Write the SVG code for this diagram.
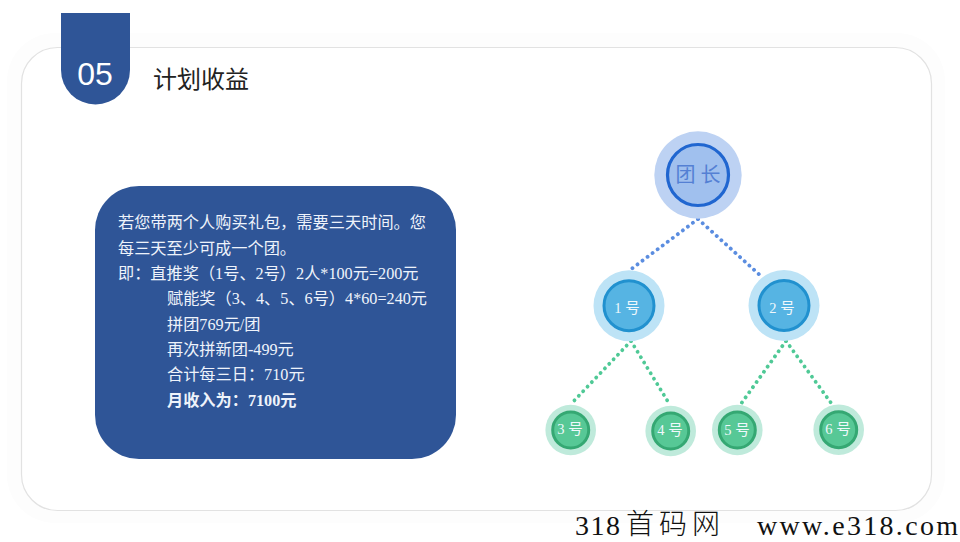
<svg xmlns="http://www.w3.org/2000/svg" width="960" height="542" viewBox="0 0 960 542">
<style>
.cn{font-family:"Liberation Serif","Noto Sans CJK SC",serif}
.body{font-size:16.2px;fill:#eef3fb}
.lab{text-anchor:middle;fill:#f0f8fc;font-size:14.5px}
.l1o{fill:#bde3f6}.l1i{fill:#56b4e3;stroke:#2191cf;stroke-width:3}
.l2o{fill:#bfeadb}.l2i{fill:#57c896;stroke:#35a873;stroke-width:3}
.dot{fill:none;stroke-width:3.8;stroke-linecap:round;stroke-dasharray:0.1 6.2}
.blue{stroke:#5b8de0}.green{stroke:#4fc996}
</style>
<rect width="960" height="542" fill="#fff"/>
<g id="card">
<rect x="7" y="33" width="938" height="490" rx="48" fill="#fdfdfd"/>
<rect x="21.500" y="47.500" width="910" height="463" rx="36" fill="#fff" stroke="#e2e2e2" stroke-width="1.200"/>
</g>
<g id="badge">
<path d="M61 13H130V70A34.500 34.500 0 0 1 61 70Z" fill="#2f5597"/>
<text x="95" y="85" text-anchor="middle" font-family="Liberation Sans,Arial,sans-serif" font-size="32" fill="#fff">05</text>
</g>
<text id="title" class="cn" x="153" y="88" font-size="24" fill="#222">计划收益</text>
<g id="info">
<rect x="95" y="186" width="361" height="273" rx="44" fill="#2f5597"/>
<g class="cn body">
<text x="118" y="228" textLength="308">若您带两个人购买礼包，需要三天时间。您</text>
<text x="118" y="254">每三天至少可成一个团。</text>
<text x="118" y="279">即：直推奖（1号、2号）2人*100元=200元</text>
<text x="167" y="304">赋能奖（3、4、5、6号）4*60=240元</text>
<text x="167" y="330">拼团769元/团</text>
<text x="167" y="355">再次拼新团-499元</text>
<text x="167" y="380">合计每三日：710元</text>
<text x="167" y="406" font-weight="700">月收入为：7100元</text>
</g>
</g>
<g id="connectors">
<path class="dot blue" d="M698 219L630 270"/>
<path class="dot blue" d="M698 219L762 277"/>
<path class="dot green" d="M631 341L571 404"/>
<path class="dot green" d="M631 341L670 405"/>
<path class="dot green" d="M786 341L738 408"/>
<path class="dot green" d="M786 341L834 407"/>
</g>
<g id="leader">
<circle cx="698" cy="175" r="43.700" fill="#bdd2f3"/>
<circle cx="698" cy="175" r="30.500" fill="#a0c0ee" stroke="#2066d0" stroke-width="3.200"/>
<text class="cn" x="698" y="182" text-anchor="middle" font-size="20" fill="#5480d4">团 长</text>
</g>
<g id="n1"><circle class="l1o" cx="629" cy="305.700" r="35.500"/><circle class="l1i" cx="629" cy="305.700" r="25"/><text class="cn lab" x="627" y="313">1 号</text></g>
<g id="n2"><circle class="l1o" cx="784" cy="305.500" r="35.500"/><circle class="l1i" cx="784" cy="305.500" r="25"/><text class="cn lab" x="782" y="313">2 号</text></g>
<g id="n3"><circle class="l2o" cx="570.700" cy="430" r="25.300"/><circle class="l2i" cx="570.700" cy="430" r="18"/><text class="cn lab" x="570" y="434">3 号</text></g>
<g id="n4"><circle class="l2o" cx="670.700" cy="431" r="25.300"/><circle class="l2i" cx="670.700" cy="431" r="18"/><text class="cn lab" x="670" y="435">4 号</text></g>
<g id="n5"><circle class="l2o" cx="737.300" cy="430" r="25.300"/><circle class="l2i" cx="737.300" cy="430" r="18"/><text class="cn lab" x="737" y="435">5 号</text></g>
<g id="n6"><circle class="l2o" cx="838.700" cy="429.700" r="25.300"/><circle class="l2i" cx="838.700" cy="429.700" r="18"/><text class="cn lab" x="838" y="434">6 号</text></g>
<g id="watermark" font-family="Liberation Serif,Noto Sans CJK SC,serif" fill="#111">
<text x="575" y="535" font-size="28" textLength="45">318</text>
<text x="626" y="534" font-size="28" textLength="94" font-family="Noto Sans CJK SC,sans-serif" font-weight="300">首码网</text>
<text x="757" y="535" font-size="28" textLength="201">www.e318.com</text>
</g>
</svg>
